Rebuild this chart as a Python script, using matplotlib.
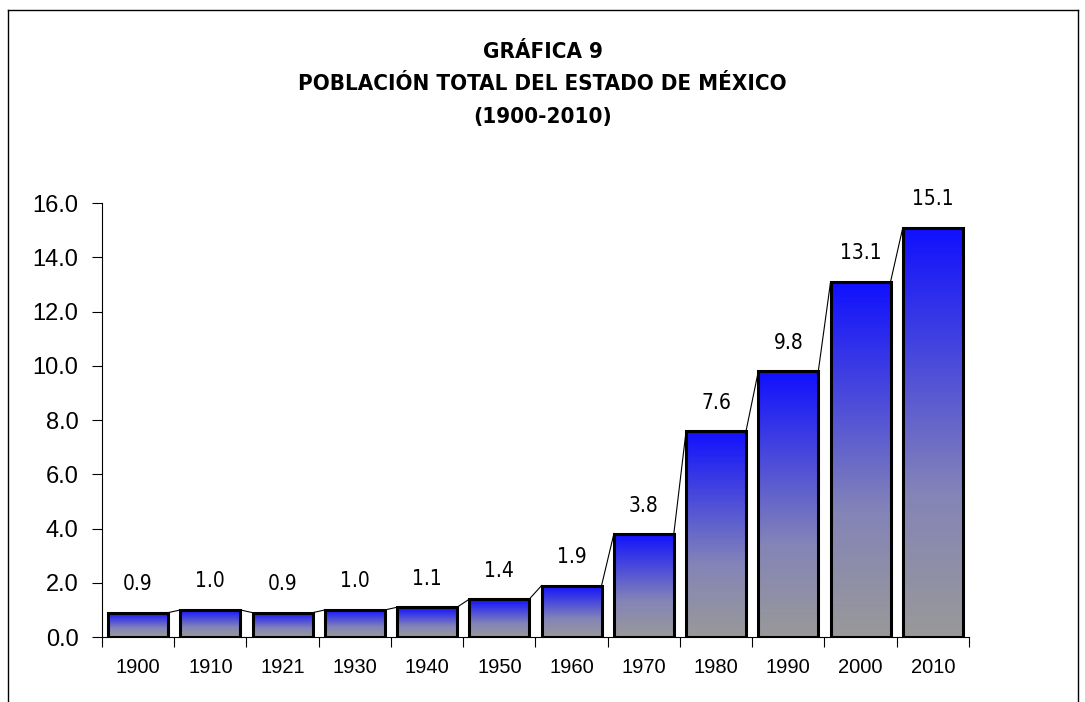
import numpy as np
import matplotlib.pyplot as plt
from matplotlib.colors import LinearSegmentedColormap
from matplotlib.lines import Line2D

# < -- Data
years = ['1900', '1910', '1921', '1930', '1940', '1950',
         '1960', '1970', '1980', '1990', '2000', '2010']
poblacion = [0.9, 1.0, 0.9, 1.0, 1.1, 1.4, 1.9, 3.8, 7.6, 9.8, 13.1, 15.1]
title_lines = ['GRÁFICA 9', 'POBLACIÓN TOTAL DEL ESTADO DE MÉXICO', '(1900-2010)']

fig = plt.figure(figsize=(10.85, 7.02), dpi=100)
ax = fig.add_axes([0.094, 0.0925, 0.799, 0.618])

x = np.arange(len(years))
w = 0.83
cmap = LinearSegmentedColormap.from_list(
    'bg', [(0, '#999999'), (0.35, '#8484b8'), (1, '#1010ff')])
grad = np.linspace(0, 1, 256).reshape(-1, 1)

bars = ax.bar(x, poblacion, width=w, facecolor='none', edgecolor='black',
              linewidth=2.2, zorder=3)
for b, v in zip(bars, poblacion):
    x0 = b.get_x()
    im = ax.imshow(grad, cmap=cmap, aspect='auto', origin='lower',
                   extent=[x0, x0 + w, 0, v], zorder=2)
    im.set_clip_path(b)

# series lines between bars
for i in range(len(x) - 1):
    ax.plot([x[i] + w / 2, x[i + 1] - w / 2], [poblacion[i], poblacion[i + 1]],
            color='black', lw=0.8, zorder=1)

for xi, v in zip(x, poblacion):
    ax.text(xi, v + 1.05, f'{v:.1f}', ha='center', va='center',
            fontsize=15, family='DejaVu Sans', fontstretch='condensed')

ax.set_xlim(-0.5, len(years) - 0.5)
ax.set_ylim(0, 16)
ax.set_yticks(np.arange(0, 16.1, 2))
ax.set_yticklabels([f'{t:.1f}' for t in np.arange(0, 16.1, 2)], fontsize=17,
                   family='Liberation Sans')
ax.set_xticks(x)
ax.set_xticklabels(years, fontsize=14.5, family='Liberation Sans')
ax.set_xticks(np.arange(-0.5, len(years)), minor=True)
ax.tick_params(axis='x', which='major', length=0, pad=15)
ax.tick_params(axis='x', which='minor', length=7, width=0.8, direction='out')
ax.tick_params(axis='y', length=7, width=0.8, direction='out', pad=10)
ax.spines['top'].set_visible(False)
ax.spines['right'].set_visible(False)
ax.spines['left'].set_linewidth(0.8)
ax.spines['bottom'].set_linewidth(0.8)

for i, t in enumerate(title_lines):
    fig.text(0.5, 1 - (52 + 32.5 * i) / 702, t, ha='center', va='center',
             fontsize=16, fontweight='bold', family='DejaVu Sans',
             fontstretch='condensed')

# outer frame
fig.add_artist(Line2D([8 / 1085, 8 / 1085], [0, 1 - 10 / 702], color='black', lw=1))
fig.add_artist(Line2D([8 / 1085, 1078 / 1085], [1 - 10 / 702, 1 - 10 / 702], color='black', lw=1))
fig.add_artist(Line2D([1078 / 1085, 1078 / 1085], [0, 1 - 10 / 702], color='black', lw=1))

fig.savefig('out.png', dpi=100)
plt.close(fig)
